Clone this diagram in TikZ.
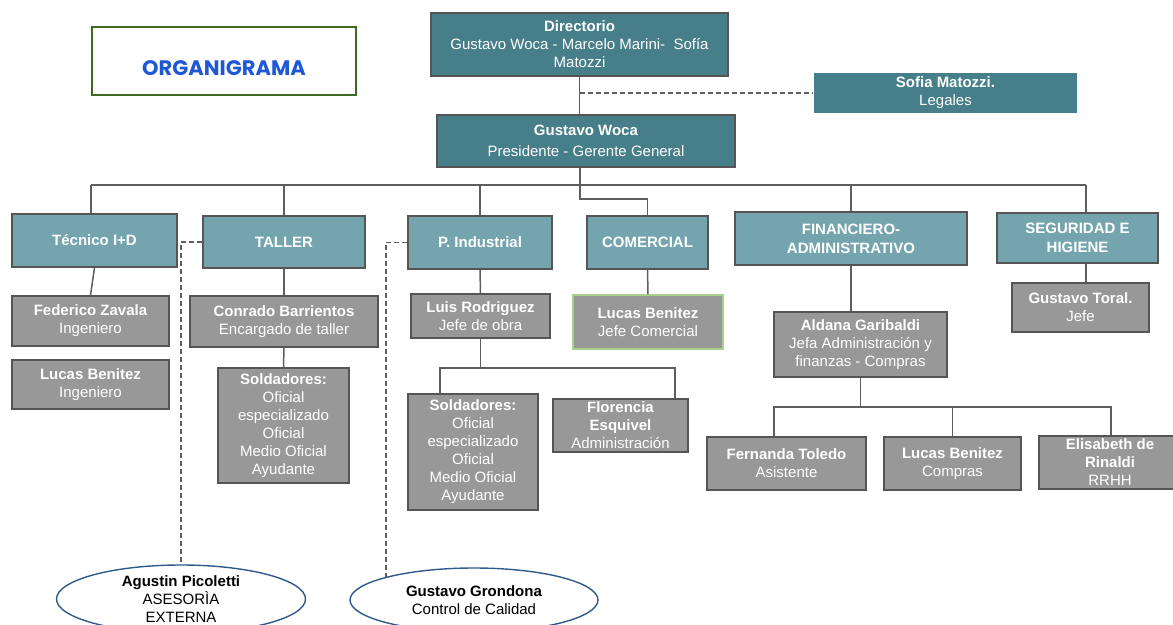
\documentclass[tikz,border=0pt]{standalone}
\usepackage{fontspec}
\setmainfont{Liberation Sans}
\newfontfamily\titlefont{Poppins}
\usepackage{tikz}
\usetikzlibrary{shapes.geometric,backgrounds}
\definecolor{tealdark}{HTML}{467E89}
\definecolor{teallight}{HTML}{74A5AF}
\definecolor{grayfill}{HTML}{989898}
\definecolor{boxline}{HTML}{555555}
\definecolor{linegray}{HTML}{5E5E5E}
\definecolor{ovalline}{HTML}{2E5A8C}
\definecolor{greenline}{HTML}{A9D18E}
\definecolor{titlegreen}{HTML}{3F6A22}
\definecolor{titleblue}{HTML}{1F58D6}

\begin{document}
\begin{tikzpicture}[x=1pt,y=-1pt,
  box/.style={draw=boxline,line width=1.3pt,text=white,align=center,inner xsep=2pt,inner ysep=0pt,font=\fontsize{15}{18}\selectfont},
  board/.style={box,fill=tealdark},
  dept/.style={box,fill=teallight,font=\fontsize{15}{19}\selectfont\bfseries},
  staff/.style={box,fill=grayfill},
  oval/.style={ellipse,draw=ovalline,fill=white,line width=1.4pt,inner sep=0pt},
  ovaltext/.style={align=center,text=black,font=\fontsize{15}{18}\selectfont},
  link/.style={draw=linegray,line width=1.5pt},
  dashlink/.style={link,line width=1.3pt,dash pattern=on 5pt off 3pt}]

\useasboundingbox (0,0) rectangle (1173,624);

\node [draw=titlegreen,line width=1.2pt,minimum width=264,minimum height=68,
  label={[text=titleblue,font=\titlefont\bfseries\fontsize{21}{24}\selectfont,yshift=-7pt]center:ORGANIGRAMA}] (title) at (224,61) {};

\node [board,minimum width=297,minimum height=63] (dir) at (579.5,44.5) {\textbf{Directorio}\\Gustavo Woca - Marcelo Marini-\ \ Sofía\\Matozzi};
\node [board,draw=none,minimum width=263,minimum height=40] (leg) at (945.5,93) {\textbf{Sofia Matozzi.}\\Legales};
\node [board,minimum width=298,minimum height=52] (pres) at (586,141) {\textbf{Gustavo Woca}\\[3pt]Presidente - Gerente General};

\node [dept,minimum width=165,minimum height=53] (tec) at (94.5,240.5) {Técnico I+D};
\node [dept,minimum width=162,minimum height=52] (tal) at (284,242) {TALLER};
\node [dept,minimum width=144,minimum height=53] (ind) at (480,242.5) {P. Industrial};
\node [dept,minimum width=121,minimum height=53] (com) at (647.5,242.5) {COMERCIAL};
\node [dept,minimum width=232,minimum height=53] (fin) at (851,238.5) {FINANCIERO-\\ADMINISTRATIVO};
\node [dept,minimum width=161,minimum height=50] (seg) at (1077.5,238) {SEGURIDAD E\\HIGIENE};

\node [staff,minimum width=157,minimum height=50] (fz) at (90.5,321) {\textbf{Federico Zavala}\\Ingeniero};
\node [staff,minimum width=157,minimum height=49] (lb1) at (90.5,384.5) {\textbf{Lucas Benitez}\\Ingeniero};
\node [staff,minimum width=188,minimum height=51] (cb) at (284,321.5) {\textbf{Conrado Barrientos}\\Encargado de taller};
\node [staff,minimum width=131,minimum height=115] (sol1) at (283.5,425.5) {\textbf{Soldadores:}\\Oficial\\especializado\\Oficial\\Medio Oficial\\Ayudante};
\node [staff,minimum width=139,minimum height=44] (lr) at (480.5,316) {\textbf{Luis Rodriguez}\\Jefe de obra};
\node [staff,draw=greenline,minimum width=150,minimum height=54] (lbc) at (648,322) {\textbf{Lucas Benitez}\\Jefe Comercial};
\node [staff,minimum width=130,minimum height=116] (sol2) at (473,452) {\textbf{Soldadores:}\\Oficial\\especializado\\Oficial\\Medio Oficial\\Ayudante};
\node [staff,minimum width=135,minimum height=53] (fe) at (620.5,425.5) {\textbf{Florencia}\\\textbf{Esquivel}\\Administración};
\node [staff,minimum width=173,minimum height=65] (ag) at (860.5,344.5) {\textbf{Aldana Garibaldi}\\Jefa Administración y\\finanzas - Compras};
\node [staff,minimum width=137,minimum height=49] (gt) at (1080.5,307.5) {\textbf{Gustavo Toral.}\\Jefe};
\node [staff,minimum width=159,minimum height=53] (ft) at (786.5,463.5) {\textbf{Fernanda Toledo}\\Asistente};
\node [staff,minimum width=137,minimum height=53] (lbp) at (952.5,463.5) {\textbf{Lucas Benitez}\\Compras};
\node [staff,minimum width=142,minimum height=53] (er) at (1110,462.5) {\textbf{Elisabeth de}\\\textbf{Rinaldi}\\RRHH};

\node [oval,minimum width=249,minimum height=68,
  label={[ovaltext]center:{\textbf{Agustin Picoletti}\\ASESORÌA\\EXTERNA}}] (e1) at (181,599) {};
\node [oval,minimum width=248,minimum height=64,
  label={[ovaltext]center:{\textbf{Gustavo Grondona}\\Control de Calidad}}] (e2) at (474,600) {};

\coordinate (j) at (580,199);
\coordinate (b1) at (91,185);
\coordinate (b6) at (1086,185);
\coordinate (c1) at (440,368);
\coordinate (c2) at (675,368);
\coordinate (d1) at (774,407);
\coordinate (d3) at (1111,407);
\coordinate (q) at (386,242.5);

\begin{scope}[on background layer]
\fill [white] (0,0) rectangle (1173,624);
\draw [link] (dir.south) -- (dir.south |- pres.north);
\draw [dashlink] (dir.south |- leg.west) -- (leg.west);
\draw [link] (pres.south -| j) -- (j) -| (com.north);
\draw [link] (b1) -- (b6);
\draw [link] (b1) -- (b1 |- tec.north);
\draw [link] (tal.north |- b1) -- (tal.north);
\draw [link] (ind.north |- b1) -- (ind.north);
\draw [link] (fin.north |- b1) -- (fin.north);
\draw [link] (b6) -- (b6 |- seg.north);
\draw [link] (tec.south) -- (fz.north);
\draw [link] (tal.south) -- (cb.north);
\draw [link] (cb.south) -- (sol1.north);
\draw [link] (ind.south) -- (lr.north);
\draw [link] (lr.south) -- (lr.south |- c1);
\draw [link] (sol2.north -| c1) |- (c2) -- (c2 |- fe.north);
\draw [link] (com.south) -- (lbc.north);
\draw [link] (fin.south) -- (fin.south |- ag.north);
\draw [link] (ag.south) -- (ag.south |- d1);
\draw [link] (ft.north -| d1) |- (d3) -- (d3 |- er.north);
\draw [link] (lbp.north |- d1) -- (lbp.north);
\draw [link] (seg.south -| b6) -- (gt.north -| b6);
\draw [dashlink] (tal.west) -| (e1.north);
\draw [dashlink] (ind.west) -- (q) -- (q |- e2.center);
\end{scope}
\end{tikzpicture}
\end{document}
